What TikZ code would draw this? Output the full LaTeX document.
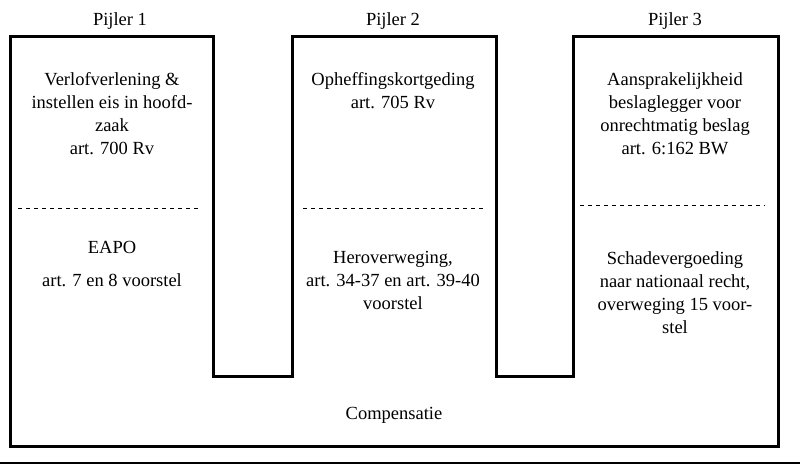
\documentclass[tikz,border=0pt]{standalone}
\usepackage{fontspec}
\setmainfont{Liberation Serif}
\begin{document}
\begin{tikzpicture}[x=1pt,y=-1pt,
  txt/.style={align=center,font=\fontsize{18.5}{23}\selectfont,inner sep=0pt},
  dl/.style={dashed,line width=1pt,dash pattern=on 4pt off 4pt}]
\useasboundingbox (0,0) rectangle (800,467);
\draw[line width=3pt,line join=miter]
  (10,36) -- (213,36) -- (213,376) -- (292,376) -- (292,36) -- (496,36) -- (496,376)
  -- (573,376) -- (573,36) -- (778,36) -- (778,446) -- (10,446) -- cycle;
\draw[line width=2pt] (0,463) -- (800,463);
\draw[dl] (18,208) -- (200,208);
\draw[dl] (303,208) -- (485,208);
\draw[dl] (580,205) -- (765,205);
\node[txt] (p1) at (120,21) {Pijler 1};
\node[txt] (p2) at (393,21) {Pijler 2};
\node[txt] (p3) at (675,21) {Pijler 3};
\node[txt,anchor=north] (a1) at (112,72) {Verlofverlening \&\\instellen eis in hoofd-\\zaak\\art. 700 Rv};
\node[txt,anchor=north] (b1) at (112,241) {EAPO\\[10pt]art. 7 en 8 voorstel};
\node[txt,anchor=north] (a2) at (393,72) {Opheffingskortgeding\\art. 705 Rv};
\node[txt,anchor=north] (b2) at (393,251) {Heroverweging,\\art. 34-37 en art. 39-40\\voorstel};
\node[txt,anchor=north] (a3) at (675,72) {Aansprakelijkheid\\beslaglegger voor\\onrechtmatig beslag\\art. 6:162 BW};
\node[txt,anchor=north] (b3) at (675,251) {Schadevergoeding\\naar nationaal recht,\\overweging 15 voor-\\stel};
\node[txt] (c) at (394,415) {Compensatie};
\end{tikzpicture}
\end{document}
